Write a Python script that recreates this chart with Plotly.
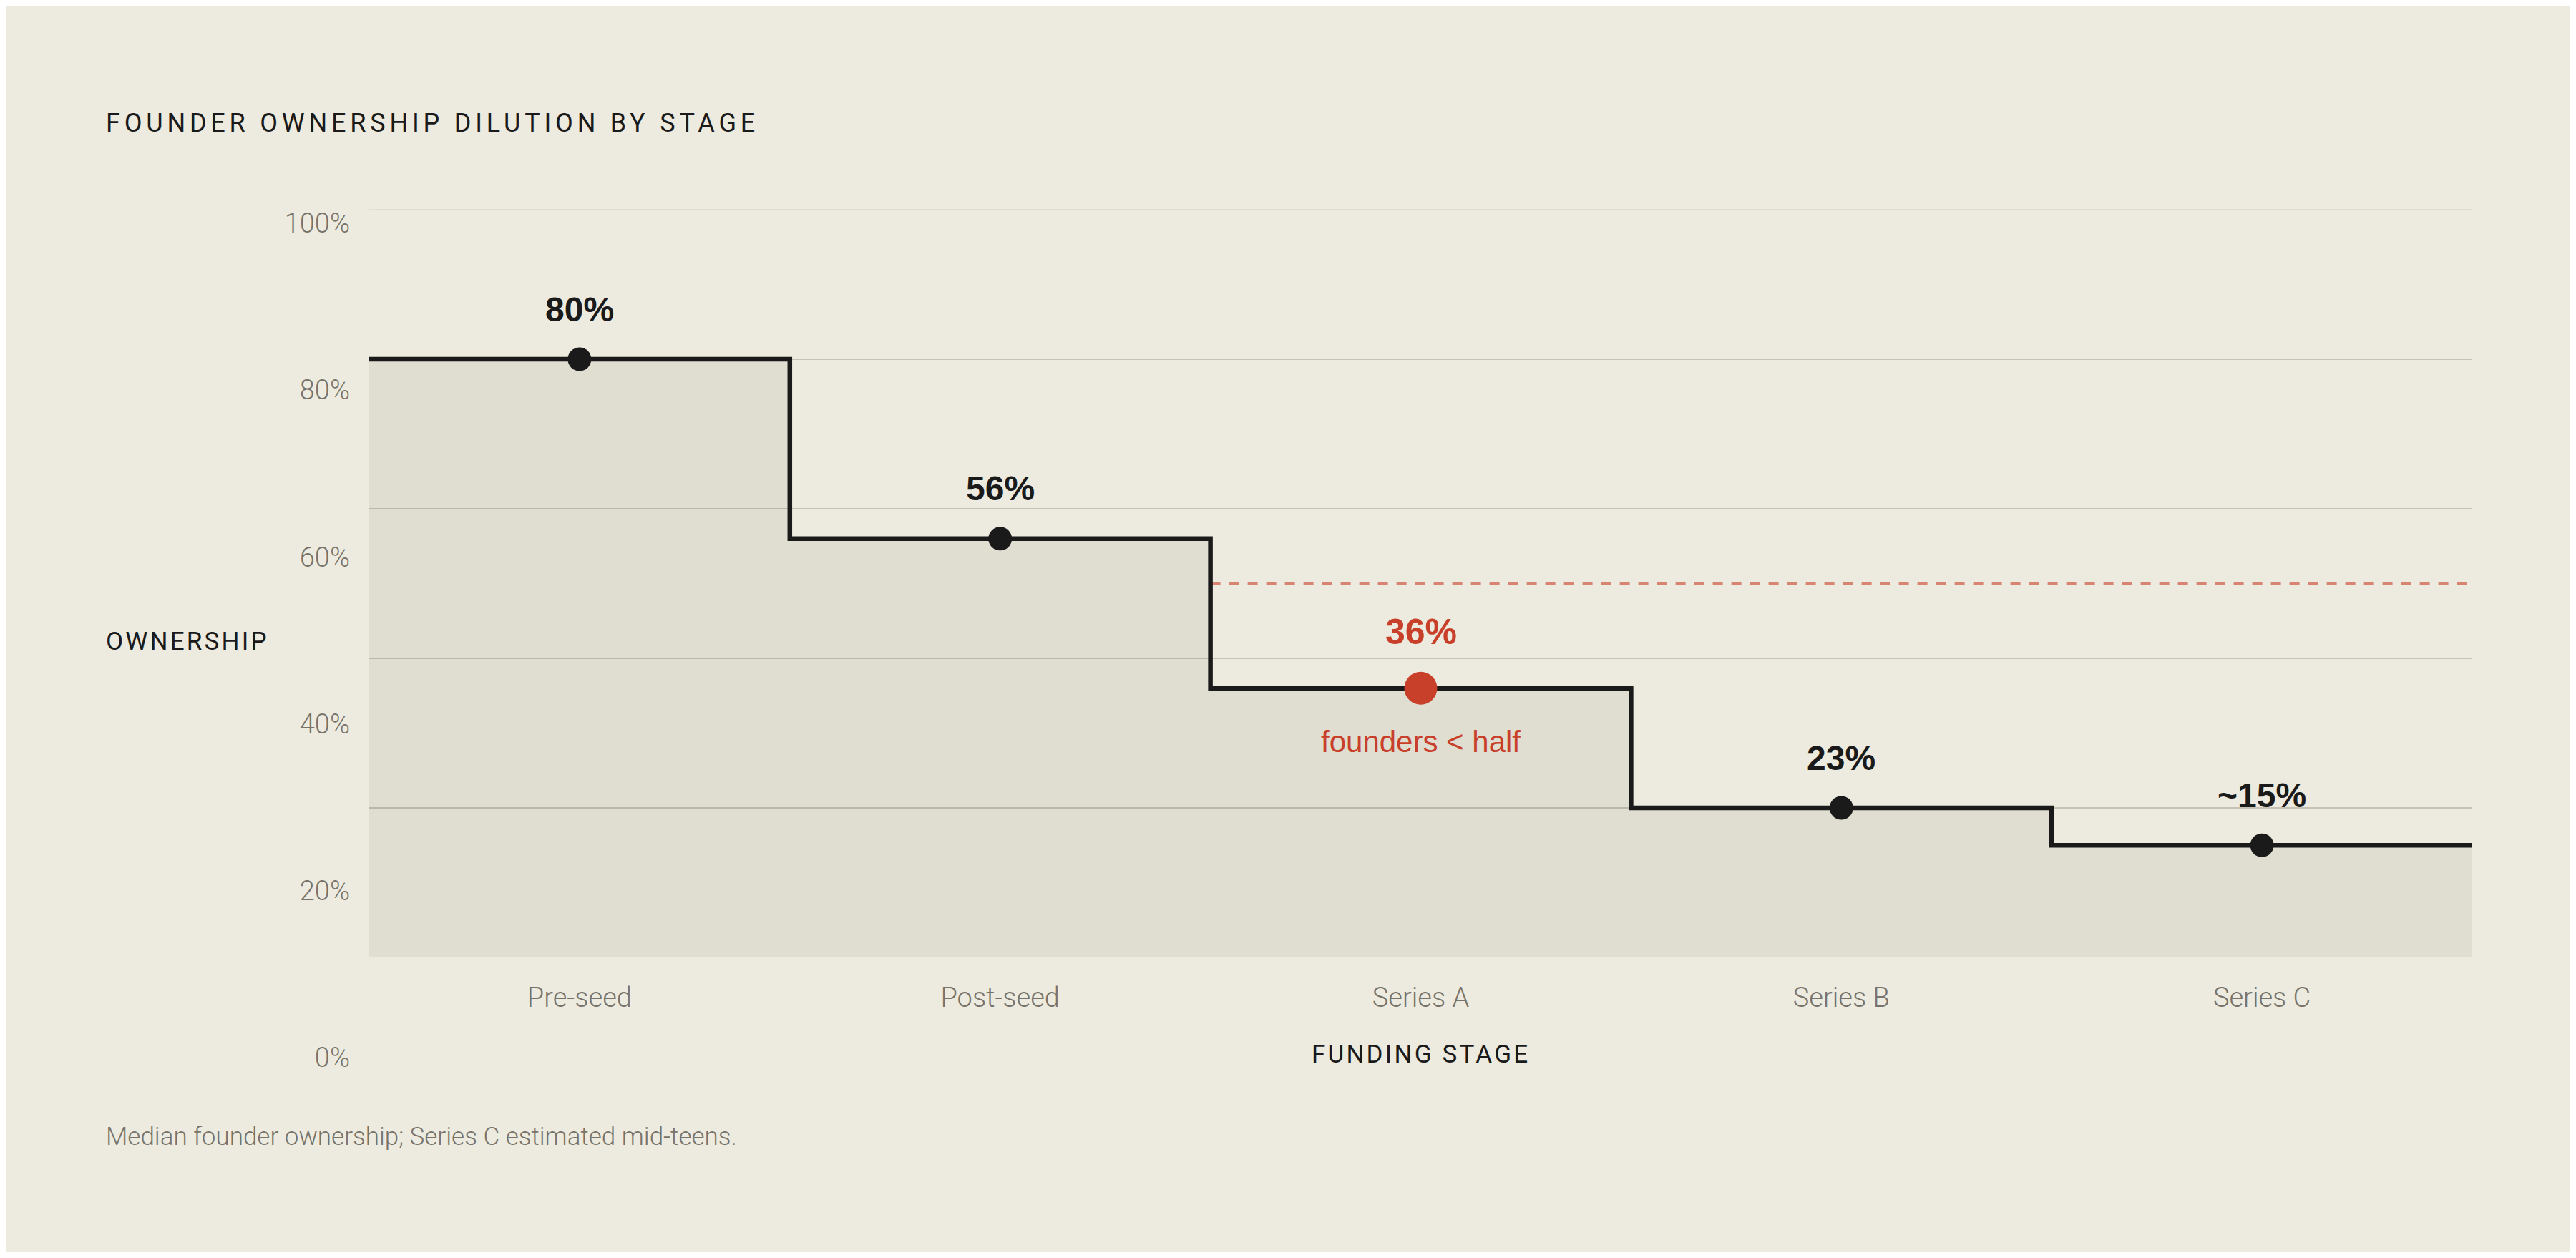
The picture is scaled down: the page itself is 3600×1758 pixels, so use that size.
import numpy as np
import plotly.graph_objects as go

# data
stages = ["Pre-seed", "Post-seed", "Series A", "Series B", "Series C"]
ownership = [80, 56, 36, 20, 15]  # plotted level, %
value_labels = ["80%", "56%", "36%", "23%", "~15%"]
highlight = "Series A"
highlight_note = "founders < half"
half_mark = 50
label_ticks = [0, 20, 40, 60, 80, 100]
label_text = ["0%", "20%", "40%", "60%", "80%", "100%"]
grid_ticks = [20, 40, 60, 80]

BG = "#edebdf"
INK = "#1a1a1a"
RED = "#c8402a"
MUTED = "#77736a"
GRID = "#c6c3b6"
SANS = "Roboto, Inter, sans-serif"
BOLD = "Liberation Sans, Arial, sans-serif"

# page geometry in screen px (the page body adds an 8px margin)
OFF = 8
W, H = 3600 - 2 * OFF, 1758 - 2 * OFF
L, R = 516, 3455
AREA_TOP, AREA_BOT = 270, 1520
Y100, Y0 = 293, 1338          # where 100% / 0% sit for the marks
LBL100, LBL0 = 311.7, 1478    # where the 100% / 0% tick labels sit

per = (Y0 - Y100) / 100
y_range = [(Y0 - AREA_BOT) / per, (Y0 - AREA_TOP) / per]
lper = (LBL0 - LBL100) / 100
y2_range = [(LBL0 - AREA_BOT) / lper, (LBL0 - AREA_TOP) / lper]
x_axis_pos = (AREA_BOT - Y0) / (AREA_BOT - AREA_TOP)


def px_x(v):
    return (v - L) / (R - L)


def px_y(v):
    return (AREA_BOT - v) / (AREA_BOT - AREA_TOP)


idx = np.arange(len(stages))
edges = np.arange(len(stages) + 1) - 0.5
hi = stages.index(highlight)

fig = go.Figure()

# step area
fig.add_trace(go.Scatter(
    x=edges, y=ownership + [ownership[-1]],
    mode="lines", line=dict(shape="hv", color=INK, width=6.5),
    fill="tozeroy", fillcolor="rgba(40,36,16,0.065)",
    hoverinfo="skip", showlegend=False,
))

# stage dots
fig.add_trace(go.Scatter(
    x=idx, y=ownership, mode="markers",
    marker=dict(
        size=[46 if s == highlight else 33 for s in stages],
        color=[RED if s == highlight else INK for s in stages],
        opacity=1, line=dict(width=0),
    ),
    showlegend=False,
))

# carrier for the tick-label axis
fig.add_trace(go.Scatter(x=[None], y=[None], yaxis="y2", showlegend=False))

# 50% reference
fig.add_shape(type="line", xref="x", yref="y", x0=edges[2], x1=edges[-1],
              y0=half_mark, y1=half_mark, layer="below",
              line=dict(color="rgba(200,64,42,0.6)", width=3, dash="14px,12px"))
# faint top rule
fig.add_shape(type="line", xref="paper", yref="y", x0=0, x1=1, y0=100, y1=100,
              layer="below", line=dict(color="#e0ddd1", width=2))

for i, s in enumerate(stages):
    is_hi = s == highlight
    fig.add_annotation(
        x=i, y=ownership[i], text=value_labels[i], showarrow=False,
        yshift=79 if is_hi else 70,
        font=dict(family=BOLD, size=50 if is_hi else 48, color=RED if is_hi else INK, weight="bold"),
    )

fig.add_annotation(x=hi, y=ownership[hi], text=highlight_note, showarrow=False,
                   yshift=-75, font=dict(family=BOLD, size=42, color=RED))

# titles
fig.add_annotation(xref="paper", yref="paper", x=px_x(146), y=px_y(172),
                   xanchor="left", yanchor="middle", showarrow=False,
                   text='<span style="letter-spacing:5.8px">FOUNDER OWNERSHIP DILUTION BY STAGE</span>',
                   font=dict(family=SANS, size=36, color=INK))
fig.add_annotation(xref="paper", yref="paper", x=px_x(146), y=px_y(896),
                   xanchor="left", yanchor="middle", showarrow=False,
                   text='<span style="letter-spacing:3.2px">OWNERSHIP</span>',
                   font=dict(family=SANS, size=35, color=INK))
fig.add_annotation(xref="paper", yref="paper", x=0.5, y=px_y(1473),
                   xanchor="center", yanchor="middle", showarrow=False,
                   text='<span style="letter-spacing:3.2px">FUNDING STAGE</span>',
                   font=dict(family=SANS, size=35, color=INK))
fig.add_annotation(xref="paper", yref="paper", x=px_x(146), y=px_y(1588),
                   xanchor="left", yanchor="middle", showarrow=False,
                   text="Median founder ownership; Series C estimated mid-teens.",
                   font=dict(family=SANS, size=35, color=MUTED, weight=300))

fig.update_layout(
    width=W, height=H,
    margin=dict(l=L - OFF, r=(W + OFF) - R, t=AREA_TOP - OFF, b=(H + OFF) - AREA_BOT, pad=0),
    paper_bgcolor=BG, plot_bgcolor=BG,
    showlegend=False,
    xaxis=dict(
        range=[edges[0], edges[-1]], tickvals=idx, ticktext=stages,
        showgrid=False, zeroline=False, showline=False, ticks="",
        anchor="free", position=x_axis_pos, ticklabelstandoff=30,
        tickfont=dict(family=SANS, size=38, color=MUTED, weight=300),
    ),
    yaxis=dict(
        range=y_range, tickvals=grid_ticks, showticklabels=False,
        showgrid=True, gridcolor=GRID, gridwidth=2, zeroline=False, ticks="",
    ),
    yaxis2=dict(
        overlaying="y", side="left", range=y2_range,
        tickvals=label_ticks, ticktext=label_text,
        showgrid=False, zeroline=False, ticks="",
        ticklabelstandoff=26,
        tickfont=dict(family=SANS, size=38, color=MUTED, weight=300),
    ),
)

fig.write_html("out.html")
